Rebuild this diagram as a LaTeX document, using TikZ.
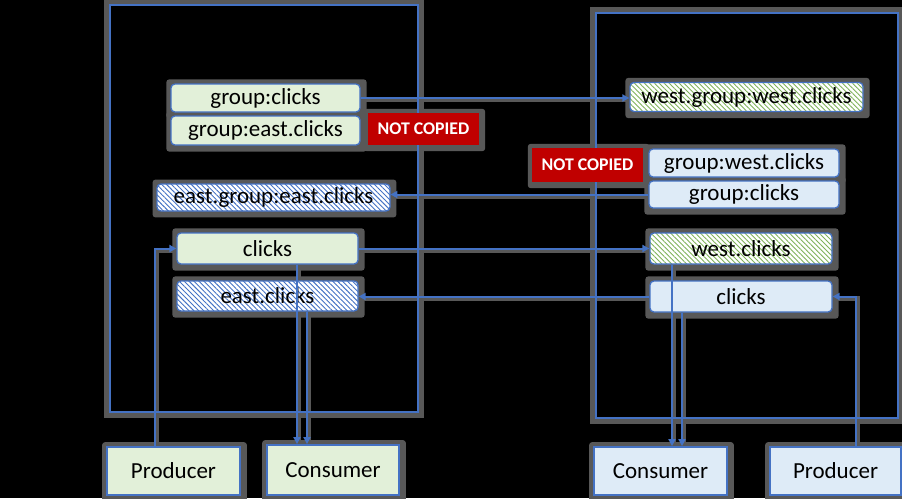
\documentclass[tikz,border=0pt]{standalone}
\usepackage{fontspec}
\setmainfont{Carlito}
\usetikzlibrary{patterns.meta,arrows.meta}
\definecolor{bl}{HTML}{4472C4}
\definecolor{gfill}{HTML}{E2F0D9}
\definecolor{bfill}{HTML}{DEEBF7}
\definecolor{ghl}{HTML}{7FB25A}
\definecolor{nred}{HTML}{C00000}
\definecolor{halo}{RGB}{88,88,88}
\pgfdeclarelayer{back}
\pgfdeclarelayer{bg}
\pgfsetlayers{back,bg,main}
\newcommand\rsbox[7]{%
  \node[#2, minimum width=#5pt, minimum height=#6pt] (#1) at (#3,#4) {#7};
  \begin{pgfonlayer}{bg}
    \fill[halo, rounded corners=3pt] ([shift={(-4,-4)}]#1.north west) rectangle ([shift={(6,6)}]#1.south east);
  \end{pgfonlayer}}
\newcommand\rsconn[1]{%
  \begin{pgfonlayer}{bg}
    \draw[haloline] #1;
  \end{pgfonlayer}
  \draw[conn] #1;}
\begin{document}
\begin{tikzpicture}[x=1pt,y=-1pt,
  box/.style={draw=bl, line width=1.3pt, rounded corners=4pt, inner sep=0pt, text=black, font=\fontsize{23}{25}\selectfont},
  gbox/.style={box, fill=gfill},
  bbox/.style={box, fill=bfill},
  ghatch/.style={box, preaction={fill=white}, pattern={Lines[angle=-45,distance=3.5pt,line width=0.9pt]}, pattern color=ghl},
  bhatch/.style={box, preaction={fill=white}, pattern={Lines[angle=-45,distance=3.5pt,line width=0.9pt]}, pattern color=bl},
  sqg/.style={gbox, rounded corners=0pt, line width=1.8pt},
  sqb/.style={bbox, rounded corners=0pt, line width=1.8pt},
  redbox/.style={fill=nred, inner sep=0pt, text=white, font=\bfseries\fontsize{17.8}{19}\selectfont},
  frame/.style={draw=bl, line width=2pt},
  framehalo/.style={draw=halo, line width=6pt},
  conn/.style={draw=bl, line width=2pt, -{Triangle[length=7pt,width=7pt]}},
  haloline/.style={draw=halo, line width=5pt, transform canvas={shift={(1.5pt,-1.5pt)}}}]
\begin{pgfonlayer}{back}
  \fill[black] (0,0) rectangle (902,498);
\end{pgfonlayer}
\useasboundingbox (0,0) rectangle (902,498);
% frames
\begin{pgfonlayer}{bg}
  \draw[framehalo] (107,2) rectangle (421,415);
  \draw[framehalo] (593,10) rectangle (901,421);
\end{pgfonlayer}
\draw[frame] (110,5) rectangle (418,412);
\draw[frame] (596,13) rectangle (898,418);
% red labels
\rsbox{ncL}{redbox}{423.5}{129}{111}{32}{NOT COPIED}
\rsbox{ncR}{redbox}{587.5}{165}{111}{34}{NOT COPIED}
% left cluster
\rsbox{gcL}{gbox}{265.5}{98}{189}{28}{group:clicks}
\rsbox{gecL}{gbox}{265.5}{130.5}{189}{29}{group:east.clicks}
\rsbox{egecL}{bhatch}{273.5}{197.5}{233}{27}{east.group:east.clicks}
\rsbox{cL}{gbox}{267.5}{248.5}{181}{31}{clicks}
\rsbox{ecL}{bhatch}{267.5}{296}{181}{30}{east.clicks}
\rsbox{prodL}{sqg}{173.5}{471}{133}{48}{Producer}
\rsbox{consL}{sqg}{333}{470}{132}{50}{Consumer}
% right cluster
\rsbox{wgwc}{ghatch}{746.5}{97}{233}{29}{west.group:west.clicks}
\rsbox{gwcR}{bbox}{744}{163}{190}{28}{group:west.clicks}
\rsbox{gcR}{bbox}{744}{194.5}{190}{27}{group:clicks}
\rsbox{wc}{ghatch}{741}{248.5}{182}{31}{west.clicks}
\rsbox{cR}{bbox}{741}{296.5}{182}{31}{clicks}
\rsbox{consR}{sqb}{660.5}{471}{133}{48}{Consumer}
\rsbox{prodR}{sqb}{835.5}{471}{131}{48}{Producer}
% connectors
\rsconn{(gcL.east) -- (gcL.east -| wgwc.west)}
\rsconn{(gcR.west) -- (gcR.west -| egecL.east)}
\rsconn{(cL.east) -- (cL.east -| wc.west)}
\rsconn{(cR.west) -- (cR.west -| ecL.east)}
\rsconn{([xshift=-18.5pt]prodL.north) |- (cL.west)}
\rsconn{([xshift=29.5pt]cL.south) -- ([xshift=29.5pt]cL.south |- consL.north)}
\rsconn{([xshift=39.5pt]ecL.south) -- ([xshift=39.5pt]ecL.south |- consL.north)}
\rsconn{([xshift=-69pt]wc.south) -- ([xshift=-69pt]wc.south |- consR.north)}
\rsconn{([xshift=-59pt]cR.south) -- ([xshift=-59pt]cR.south |- consR.north)}
\rsconn{([xshift=20.5pt]prodR.north) |- (cR.east)}
\end{tikzpicture}
\end{document}
